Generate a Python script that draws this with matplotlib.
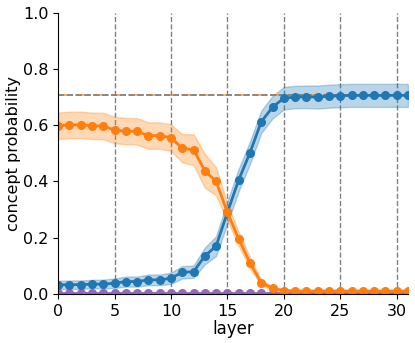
import matplotlib
matplotlib.use("Agg")
import matplotlib.pyplot as plt
import numpy as np

layers = np.arange(32)

# concept probability per layer (mean and spread)
blue_mean = [0.032, 0.033, 0.033, 0.035, 0.035, 0.038, 0.044, 0.044, 0.050, 0.050,
             0.056, 0.077, 0.079, 0.135, 0.170, 0.290, 0.405, 0.502, 0.612, 0.664,
             0.696, 0.700, 0.701, 0.700, 0.703, 0.705, 0.706, 0.706, 0.706, 0.706,
             0.706, 0.706]
blue_err = [0.015, 0.015, 0.015, 0.015, 0.016, 0.017, 0.018, 0.018, 0.019, 0.019,
            0.020, 0.022, 0.022, 0.030, 0.035, 0.040, 0.040, 0.040, 0.040, 0.040,
            0.040, 0.040, 0.040, 0.041, 0.041, 0.041, 0.041, 0.041, 0.041, 0.041,
            0.041, 0.041]

orange_mean = [0.598, 0.601, 0.601, 0.598, 0.597, 0.583, 0.579, 0.578, 0.563, 0.563,
               0.556, 0.518, 0.513, 0.438, 0.400, 0.290, 0.196, 0.111, 0.040, 0.020,
               0.012, 0.010, 0.010, 0.010, 0.010, 0.010, 0.010, 0.010, 0.010, 0.010,
               0.010, 0.010]
orange_err = [0.047, 0.047, 0.047, 0.047, 0.047, 0.047, 0.047, 0.047, 0.047, 0.047,
              0.047, 0.050, 0.055, 0.060, 0.050, 0.030, 0.025, 0.020, 0.010, 0.006,
              0.005, 0.005, 0.005, 0.005, 0.005, 0.005, 0.005, 0.005, 0.005, 0.005,
              0.005, 0.005]

purple_mean = [0.003] * 32
purple_err = [0.002] * 32

ref_level = 0.708

fig = plt.figure(figsize=(4.15, 3.43), dpi=100)
ax = fig.add_axes([0.14, 0.143, 0.843, 0.82])

for x in range(5, 35, 5):
    ax.axvline(x, color="gray", linestyle="--", linewidth=1, zorder=0)

ax.axhline(ref_level, color="tab:blue", linestyle="--", linewidth=1.2, alpha=0.7)
ax.axhline(ref_level, color="tab:orange", linestyle="-.", linewidth=1.2, alpha=0.7)
ax.axhline(ref_level, color="gray", linestyle="--", linewidth=1.2, alpha=0.8)

for mean, err, c in [(purple_mean, purple_err, "tab:purple"),
                     (blue_mean, blue_err, "tab:blue"),
                     (orange_mean, orange_err, "tab:orange")]:
    m = np.array(mean)
    e = np.array(err)
    ax.fill_between(layers, m - e, m + e, color=c, alpha=0.3, linewidth=1)
    ax.plot(layers, m, color=c, marker="o", markersize=5.5, linewidth=2)

ax.set_xlim(0, 31)
ax.set_ylim(0, 1.0)
ax.set_xticks(range(0, 31, 5))
ax.set_yticks([0.0, 0.2, 0.4, 0.6, 0.8, 1.0])
ax.tick_params(labelsize=11.5)
ax.set_xlabel("layer", fontsize=12, labelpad=1)
ax.set_ylabel("concept probability", fontsize=11.5)
ax.yaxis.set_label_coords(-0.105, 0.5)
ax.spines["top"].set_visible(False)
ax.spines["right"].set_visible(False)

fig.savefig("out.png", dpi=100)
